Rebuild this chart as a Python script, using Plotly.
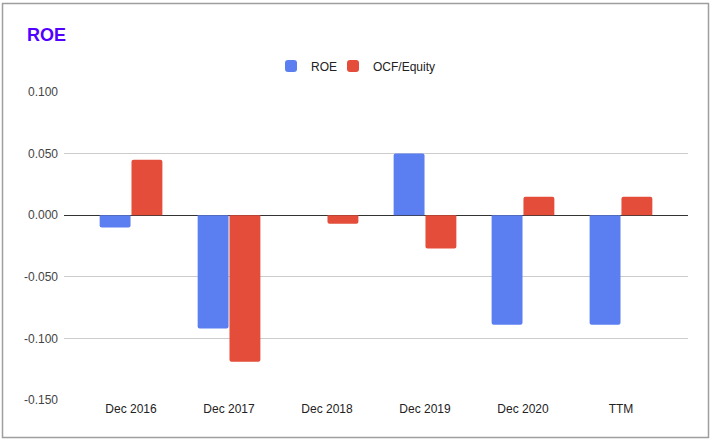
import plotly.graph_objects as go

categories = ["Dec 2016", "Dec 2017", "Dec 2018", "Dec 2019", "Dec 2020", "TTM"]
roe = [-0.010, -0.092, 0.000, 0.050, -0.089, -0.089]
ocf_equity = [0.045, -0.119, -0.007, -0.027, 0.015, 0.015]
y_ticks = [0.10, 0.05, 0.0, -0.05, -0.10, -0.15]
y_tick_labels = ["0.100", "0.050", "0.000", "-0.050", "-0.100", "-0.150"]

W, H = 712, 445
L, R, T, B = 64, 24, 92, 45
pw, ph = W - L - R, H - T - B

fig = go.Figure()
fig.add_trace(go.Bar(name="ROE", x=categories, y=roe, marker_color="#5b7ff0",
                     marker_line_width=0, legend="legend"))
fig.add_trace(go.Bar(name="OCF/Equity", x=categories, y=ocf_equity, marker_color="#e44d39",
                     marker_line_width=0, legend="legend2"))

def px_x(p):
    return (p - L) / pw

def px_y(p):
    return (H - B - p) / ph

legend_common = dict(orientation="h", xanchor="left", y=1 + 26 / ph, yanchor="middle",
                     font=dict(size=12, color="#222222"), itemwidth=30,
                     bgcolor="rgba(0,0,0,0)")

fig.update_layout(
    width=W, height=H,
    margin=dict(l=L, r=R, t=T, b=B, pad=0),
    paper_bgcolor="white", plot_bgcolor="white",
    font=dict(family="Liberation Sans, Arial, sans-serif", size=12, color="#222222"),
    barmode="group", bargap=0.35, bargroupgap=0.03, barcornerradius=2,
    title=dict(text="<b>ROE</b>", x=27 / W, xref="container", xanchor="left",
               y=1 - 35 / H, yref="container", yanchor="middle",
               font=dict(size=18, color="#5200ff", family="Liberation Sans, Arial, sans-serif")),
    legend=dict(x=px_x(271), **legend_common),
    legend2=dict(x=px_x(333), **legend_common),
    xaxis=dict(range=[-0.684, 5.684], showgrid=False, zeroline=False, showline=False,
               ticks="", tickfont=dict(size=12, color="#222222"), fixedrange=True),
    yaxis=dict(range=[-0.15, 0.10], tickvals=y_ticks, ticktext=y_tick_labels,
               showgrid=True, gridcolor="#cccccc", gridwidth=1,
               zeroline=True, zerolinecolor="#333333", zerolinewidth=1,
               showline=False, ticks="", ticklabelstandoff=5,
               tickfont=dict(size=12, color="#444444"), fixedrange=True),
    showlegend=True,
    shapes=[dict(type="rect", xref="paper", yref="paper",
                 x0=px_x(2.5), x1=px_x(708.5), y0=px_y(437.5), y1=px_y(3.5),
                 line=dict(color="#9e9e9e", width=1.5), fillcolor="rgba(0,0,0,0)",
                 layer="below")],
)

fig.write_html("out.html", config={"displayModeBar": False},
               post_script="document.body.style.margin='0';document.body.style.overflow='hidden';")
